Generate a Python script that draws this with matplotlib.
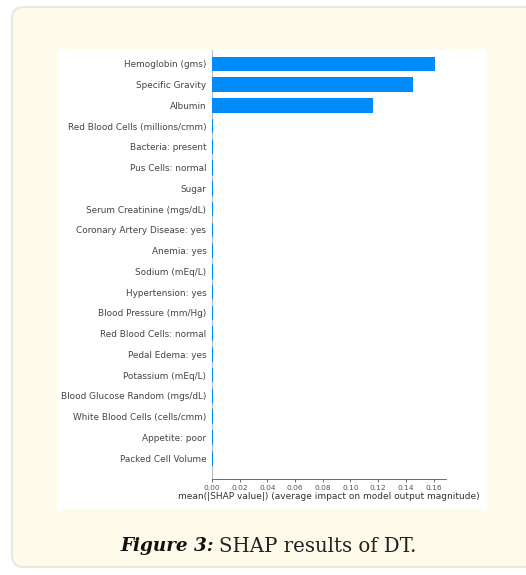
import numpy as np
import matplotlib
matplotlib.use("Agg")
import matplotlib.pyplot as plt
from matplotlib.patches import FancyBboxPatch, Rectangle

# features, top to bottom, and mean(|SHAP value|)
features = ["Hemoglobin (gms)", "Specific Gravity", "Albumin",
            "Red Blood Cells (millions/cmm)", "Bacteria: present",
            "Pus Cells: normal", "Sugar", "Serum Creatinine (mgs/dL)",
            "Coronary Artery Disease: yes", "Anemia: yes", "Sodium (mEq/L)",
            "Hypertension: yes", "Blood Pressure (mm/Hg)",
            "Red Blood Cells: normal", "Pedal Edema: yes", "Potassium (mEq/L)",
            "Blood Glucose Random (mgs/dL)", "White Blood Cells (cells/cmm)",
            "Appetite: poor", "Packed Cell Volume"]
shap_vals = [0.161, 0.145, 0.116, 0.0005, 0.0004, 0.0004, 0.0004, 0.0004,
             0.0004, 0.0004, 0.0004, 0.0004, 0.0004, 0.0004, 0.0004, 0.0004,
             0.0004, 0.0004, 0.0004, 0.0004]
xticks = [0.00, 0.02, 0.04, 0.06, 0.08, 0.10, 0.12, 0.14, 0.16]

W, H = 526, 575
fig = plt.figure(figsize=(W / 100, H / 100), dpi=100, facecolor="white")

# page background in pixel coordinates
bg = fig.add_axes([0, 0, 1, 1])
bg.set_xlim(0, W)
bg.set_ylim(H, 0)
bg.axis("off")
bg.add_patch(FancyBboxPatch((12, 7), 560, 560, boxstyle="round,pad=0,rounding_size=12",
                            fc="#fefbea", ec="#ebe8dc", lw=1.5))
bg.add_patch(Rectangle((57, 49), 430, 460, fc="white", ec="none"))
bg.text(214, 546, "Figure 3:", ha="right", va="center", fontsize=13.2,
        family="DejaVu Serif", weight="bold", style="italic", color="#111111")
bg.text(219, 546, "SHAP results of DT.", ha="left", va="center", fontsize=14.2,
        family="DejaVu Serif", color="#222222")

# SHAP bar plot
ax = fig.add_axes([212 / W, 1 - 479 / H, 234 / W, 429 / H])
n = len(features)
ypos = np.arange(n)[::-1]
ax.barh(ypos, shap_vals, height=0.7, color="#008bfb", align="center")
ax.axvline(0, color="#bbbbbb", lw=0.8, zorder=-1)
ax.set_ylim(-1, n - 0.33)
ax.set_xlim(0, 0.169)
ax.set_yticks(ypos)
ax.set_yticklabels(features, fontsize=6.4, color="#444444")
ax.set_xticks(xticks)
ax.set_xticklabels([f"{t:.2f}" for t in xticks], fontsize=5.4, color="#555555")
ax.tick_params(axis="y", length=0, pad=4)
ax.tick_params(axis="x", length=2, width=0.6, color="#555555", pad=2)
for s in ["top", "right", "left"]:
    ax.spines[s].set_visible(False)
ax.spines["bottom"].set_color("#555555")
ax.spines["bottom"].set_linewidth(0.6)
ax.set_xlabel("mean(|SHAP value|) (average impact on model output magnitude)",
              fontsize=6.5, color="#333333", labelpad=1)

fig.savefig("out.png", dpi=100, facecolor="white")
